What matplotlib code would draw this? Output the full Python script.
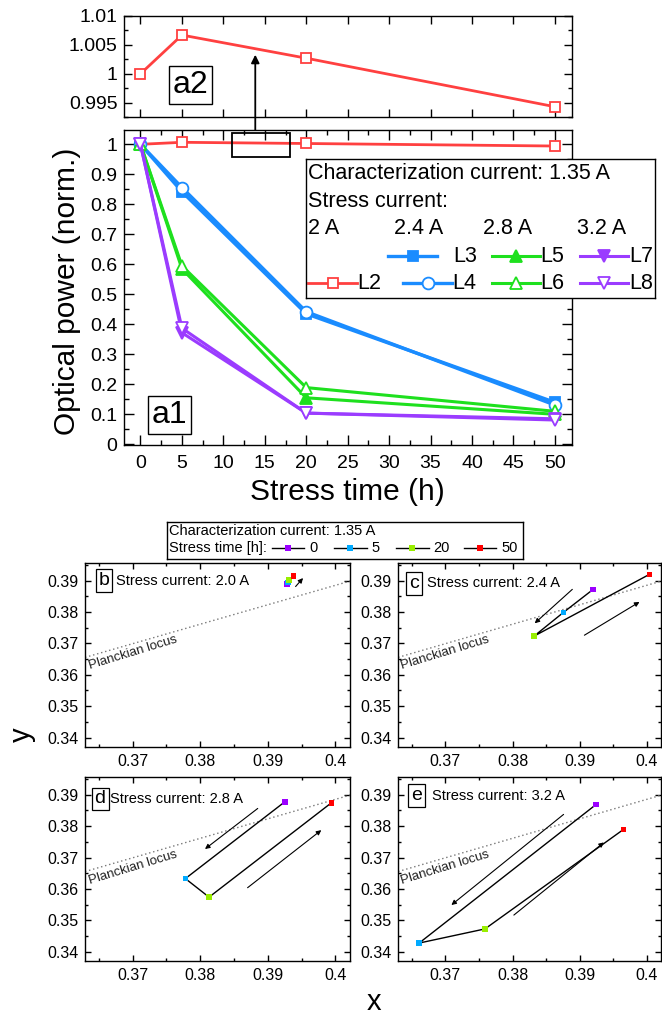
import matplotlib
matplotlib.use('Agg')
import matplotlib.pyplot as plt
from matplotlib.ticker import MultipleLocator, FuncFormatter
from matplotlib.patches import Rectangle

plt.rcParams['font.family'] = ['Liberation Sans', 'DejaVu Sans']
plt.rcParams['axes.linewidth'] = 1.0

# ==========================================
# 数据
# ==========================================
time_h = [0, 5, 20, 50]
L2 = [1.0, 1.0067, 1.0027, 0.9943]
L3 = [1.0, 0.842, 0.435, 0.140]
L4 = [1.0, 0.856, 0.442, 0.131]
L5 = [1.0, 0.585, 0.155, 0.100]
L6 = [1.0, 0.595, 0.189, 0.110]
L7 = [1.0, 0.372, 0.104, 0.085]
L8 = [1.0, 0.387, 0.104, 0.081]

zoom_box = [11.0, 0.959, 18.0, 1.037]      # x0, y0, x1, y1 (a1 数据坐标)
zoom_arrow = [13.85, 1.037, 1.0033]        # x, 起点 y (a1), 终点 y (a2)

stress_currents = ['2.0 A', '2.4 A', '2.8 A', '3.2 A']
panel_names = ['b', 'c', 'd', 'e']
stress_times = ['0', '5', '20', '50']
time_colors = ['#9b00ff', '#00aaff', '#99ee00', '#ff0000']

cie_x = [
    [0.3928, 0.3930, 0.3931, 0.3938],
    [0.3920, 0.3876, 0.3832, 0.4004],
    [0.3925, 0.3778, 0.3813, 0.3994],
    [0.3924, 0.3661, 0.3759, 0.3965],
]
cie_y = [
    [0.3889, 0.3894, 0.3901, 0.3914],
    [0.3872, 0.3799, 0.3723, 0.3920],
    [0.3877, 0.3633, 0.3574, 0.3874],
    [0.3868, 0.3428, 0.3473, 0.3789],
]
# 方向箭头: (x0, y0, x1, y1)
dir_arrows = [
    [(0.3941, 0.3881, 0.3952, 0.3908)],
    [(0.3889, 0.3872, 0.3833, 0.3764), (0.3907, 0.3726, 0.3989, 0.3832)],
    [(0.3885, 0.3856, 0.3807, 0.3727), (0.3870, 0.3604, 0.3979, 0.3787)],
    [(0.3876, 0.3837, 0.3709, 0.3549), (0.3802, 0.3517, 0.3936, 0.3748)],
]
locus_x = [0.360, 0.405]
locus_y = [0.3637, 0.3916]
locus_label = (0.3700, 0.3669)

# ==========================================
# 样式
# ==========================================
RED, BLUE, GREEN, PURPLE = '#ff4040', '#1a8cff', '#1ee01e', '#9b3cff'
series = [
    ('L2', L2, RED, 's', False, 6.5, 2.0),
    ('L3', L3, BLUE, 's', True, 7, 2.4),
    ('L4', L4, BLUE, 'o', False, 8.5, 2.4),
    ('L5', L5, GREEN, '^', True, 8.5, 2.2),
    ('L6', L6, GREEN, '^', False, 8.5, 2.2),
    ('L7', L7, PURPLE, 'v', True, 8.5, 2.2),
    ('L8', L8, PURPLE, 'v', False, 8.5, 2.2),
]

W, H = 662, 1014
fig = plt.figure(figsize=(W / 100, H / 100), dpi=100)
fmt = FuncFormatter(lambda v, p: f'{v:g}')


def px_axes(l, t, r, b, **kw):
    return fig.add_axes([l / W, 1 - b / H, (r - l) / W, (b - t) / H], **kw)


def style_ticks(ax, size, major_len, minor_len, pad):
    ax.tick_params(which='both', direction='in', top=True, right=True,
                   labelsize=size, width=1.0, pad=pad)
    ax.tick_params(which='major', length=major_len)
    ax.tick_params(which='minor', length=minor_len)


def line_kw(color, marker, filled, ms, lw):
    return dict(color=color, lw=lw, marker=marker, ms=ms, mec=color, mew=1.3,
                mfc=color if filled else 'white')


# ==========================================
# a2: L2 放大
# ==========================================
ax2 = px_axes(124.5, 16, 571.7, 117.3)
name, vals, c, m, f, ms, lw = series[0]
ax2.plot(time_h, vals, **line_kw(c, m, f, ms, lw))
ax2.set_xlim(-1.93, 52.03)
ax2.set_ylim(0.99247, 1.01)
ax2.xaxis.set_major_locator(MultipleLocator(5))
ax2.yaxis.set_major_locator(MultipleLocator(0.005))
ax2.yaxis.set_minor_locator(MultipleLocator(0.0025))
ax2.yaxis.set_major_formatter(fmt)
style_ticks(ax2, 14, 6, 3, 5)
ax2.tick_params(labelbottom=False)
ax2.text(0.148, 0.32, 'a2', transform=ax2.transAxes, fontsize=23,
         ha='center', va='center',
         bbox=dict(boxstyle='square,pad=0.12', fc='white', ec='black', lw=1.0))

# ==========================================
# a1: 全部曲线
# ==========================================
ax1 = px_axes(124.5, 130, 571.7, 445)
for name, vals, c, m, f, ms, lw in series:
    ax1.plot(time_h, vals, **line_kw(c, m, f, ms, lw))
ax1.set_xlim(-1.93, 52.03)
ax1.set_ylim(-0.0023, 1.0477)
ax1.xaxis.set_major_locator(MultipleLocator(5))
ax1.xaxis.set_minor_locator(MultipleLocator(2.5))
ax1.yaxis.set_major_locator(MultipleLocator(0.1))
ax1.yaxis.set_minor_locator(MultipleLocator(0.05))
ax1.xaxis.set_major_formatter(fmt)
ax1.yaxis.set_major_formatter(fmt)
style_ticks(ax1, 14, 7, 3.5, 5)
ax1.tick_params(axis='x', pad=7)
ax1.add_patch(Rectangle((zoom_box[0], zoom_box[1]), zoom_box[2] - zoom_box[0],
                        zoom_box[3] - zoom_box[1], fill=False, ec='black', lw=1.3,
                        zorder=5))
ax1.text(0.101, 0.095, 'a1', transform=ax1.transAxes, fontsize=23,
         ha='center', va='center',
         bbox=dict(boxstyle='square,pad=0.12', fc='white', ec='black', lw=1.0))
ax2.annotate('', xy=(zoom_arrow[0], zoom_arrow[2]), xycoords='data',
             xytext=(zoom_arrow[0], zoom_arrow[1]), textcoords=ax1.transData,
             arrowprops=dict(arrowstyle='-|>', color='black', lw=1.3,
                             mutation_scale=12, shrinkA=0, shrinkB=0),
             annotation_clip=False)

fig.text(67.5 / W, 1 - 291.5 / H, 'Optical power (norm.)', rotation=90,
         ha='center', va='center', fontsize=21.5)
fig.text(347 / W, 1 - 492 / H, 'Stress time (h)', ha='center', va='center',
         fontsize=21.5)

# a1 图例 (像素坐标)
leg = px_axes(306, 159.3, 655, 298.3)
leg.set_xlim(306, 655)
leg.set_ylim(298.3, 159.3)
leg.set_xticks([])
leg.set_yticks([])
LFS = 15.5
leg.text(308.5, 173.5, 'Characterization current: 1.35 A', fontsize=LFS, va='center')
leg.text(308.5, 201.5, 'Stress current:', fontsize=LFS, va='center')
for xh, lab in zip([308.5, 394, 483, 577], ['2 A', '2.4 A', '2.8 A', '3.2 A']):
    leg.text(xh, 229, lab, fontsize=LFS, va='center')
leg_slots = {
    'L2': (308.3, 356.7, 283.3, 357.7),
    'L3': (388.3, 436.7, 256.0, 453.3),
    'L4': (403.3, 451.7, 283.3, 452.7),
    'L5': (491.7, 540.0, 256.0, 540.7),
    'L6': (491.7, 540.0, 283.3, 540.7),
    'L7': (580.0, 628.3, 256.0, 629.0),
    'L8': (580.0, 628.3, 283.3, 629.0),
}
for name, vals, c, m, f, ms, lw in series:
    x0, x1, yy, xt = leg_slots[name]
    leg.plot([x0, x1], [yy, yy], color=c, lw=lw)
    leg.plot([(x0 + x1) / 2], [yy], **line_kw(c, m, f, ms, 0))
    leg.text(xt, yy, name, fontsize=LFS, va='center')

# ==========================================
# b-e: 色坐标
# ==========================================
panel_px = [
    (85.3, 563.3, 349.7, 746.7),
    (398.3, 563.3, 661.0, 746.7),
    (85.3, 777.3, 349.7, 961.0),
    (398.3, 777.3, 661.0, 961.0),
]
label_pos = [(0.071, 0.905, 0.118), (0.059, 0.89, 0.110),
             (0.056, 0.882, 0.095), (0.069, 0.90, 0.127)]

for i in range(4):
    ax = px_axes(*panel_px[i])
    ax.plot(locus_x, locus_y, color='#777777', lw=1.0, ls=(0, (1, 2)))
    ax.text(locus_label[0], locus_label[1], 'Planckian locus', fontsize=9.5,
            rotation=17, ha='center', va='center', color='#222222')
    ax.plot(cie_x[i], cie_y[i], color='black', lw=1.0, zorder=2)
    ax.scatter(cie_x[i], cie_y[i], c=time_colors, marker='s', s=16, zorder=3,
               linewidths=0)
    for x0, y0, x1, y1 in dir_arrows[i]:
        ax.annotate('', xy=(x1, y1), xytext=(x0, y0),
                    arrowprops=dict(arrowstyle='-|>', color='black', lw=0.8,
                                    mutation_scale=7, shrinkA=0, shrinkB=0))
    ax.set_xlim(0.363, 0.4021)
    ax.set_ylim(0.3371, 0.3955)
    ax.xaxis.set_major_locator(MultipleLocator(0.01))
    ax.xaxis.set_minor_locator(MultipleLocator(0.005))
    ax.yaxis.set_major_locator(MultipleLocator(0.01))
    ax.yaxis.set_minor_locator(MultipleLocator(0.005))
    ax.xaxis.set_major_formatter(fmt)
    ax.yaxis.set_major_formatter(fmt)
    style_ticks(ax, 11.5, 4, 2.5, 5)
    bx, by, tx = label_pos[i]
    ax.text(bx, by, panel_names[i], transform=ax.transAxes, fontsize=14,
            ha='center', va='center',
            bbox=dict(boxstyle='square,pad=0.15', fc='white', ec='black', lw=0.9))
    ax.text(tx, by, 'Stress current: ' + stress_currents[i], transform=ax.transAxes,
            fontsize=10.5, ha='left', va='center')

fig.text(373.8 / W, 1 - 1010 / H, 'x', ha='center', va='baseline', fontsize=21)
fig.text(22 / W, 1 - 735 / H, 'y', rotation=90, ha='center', va='center', fontsize=21)

# b-e 图例
leg2 = px_axes(167.2, 522.0, 523.0, 559.3)
leg2.set_xlim(167.2, 523.0)
leg2.set_ylim(559.3, 522.0)
leg2.set_xticks([])
leg2.set_yticks([])
leg2.text(169, 531, 'Characterization current: 1.35 A', fontsize=10.5, va='center')
leg2.text(169, 548.3, 'Stress time [h]:', fontsize=10.5, va='center')
for x0, lab, col in zip([271.7, 334.0, 396.0, 463.7], stress_times, time_colors):
    leg2.plot([x0, x0 + 32.6], [548.3, 548.3], color='black', lw=1.0)
    leg2.scatter([x0 + 16.3], [548.3], c=[col], marker='s', s=16, zorder=3, linewidths=0)
    leg2.text(x0 + 37.5, 548.3, lab, fontsize=10.5, va='center')

fig.savefig('out.png', dpi=100)
